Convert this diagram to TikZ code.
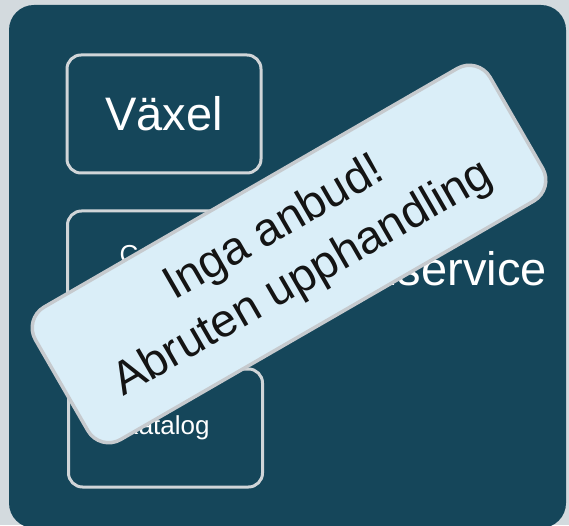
\documentclass[tikz,border=0pt]{standalone}
\usepackage{fontspec}
\setmainfont{Liberation Sans}
\definecolor{bggrey}{RGB}{211,218,222}
\definecolor{navy}{RGB}{21,70,90}
\definecolor{boxline}{RGB}{208,213,216}
\definecolor{bannerfill}{RGB}{218,238,248}
\definecolor{bannerline}{RGB}{198,202,206}
\definecolor{ink}{RGB}{20,20,20}
\begin{document}
\begin{tikzpicture}[x=1pt,y=1pt,
  subbox/.style={draw=boxline, line width=3pt, rounded corners=14pt,
    minimum width=194pt, minimum height=118pt, inner sep=0pt,
    text=white, align=center},
  bigtext/.style={font=\fontsize{47}{50}\selectfont},
  smalltext/.style={font=\fontsize{26}{30}\selectfont},
  banner/.style={draw=bannerline, fill=bannerfill, line width=3.5pt,
    rounded corners=24pt, minimum width=525pt, minimum height=153pt,
    inner sep=0pt, text=ink, align=center,
    font=\fontsize{46.5}{58}\selectfont}]
\useasboundingbox (0,0) rectangle (569,525);
\fill[bggrey] (0,0) rectangle (569,525);
\begin{scope}
\clip (0,0) rectangle (569,525);
\fill[navy, rounded corners=25pt] (9,-3) rectangle (566,520);
\end{scope}
\node[subbox, bigtext] (vaxel) at (164,411) {Växel};
\node[subbox, smalltext] (contact) at (164.5,255) {Contact\\center};
\node[subbox, smalltext] (katalog) at (165.5,97) {Katalog};
\node[anchor=base east, inner sep=0pt, text=white,
  font=\fontsize{47}{50}\selectfont] (kund) at (547,240) {Kundservice};
\node[banner, rotate=30] (stamp) at (289,271) {Inga anbud!\\Abruten upphandling};
\end{tikzpicture}
\end{document}
